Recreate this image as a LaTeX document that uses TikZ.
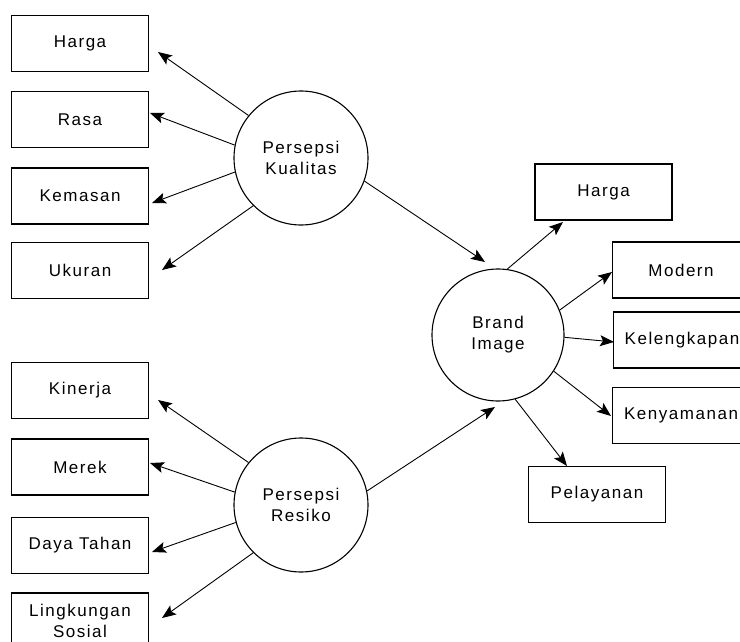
\documentclass[tikz,border=0pt]{standalone}
\usepackage{fontspec}
\setmainfont{Liberation Sans}[LetterSpace=9]
\usetikzlibrary{arrows.meta}
\begin{document}
\begin{tikzpicture}[x=1pt,y=-1pt,
  box/.style={draw,line width=1.1pt,minimum width=137pt,minimum height=56pt,inner sep=0pt,align=center,font=\fontsize{17}{21}\selectfont},
  latent/.style={draw,circle,line width=1.1pt,minimum size=134pt,inner sep=0pt,align=center,font=\fontsize{17}{21}\selectfont},
  arr/.style={line width=0.9pt,-{Stealth[length=14pt,width=11pt,inset=3pt]}}]
\useasboundingbox (0,0) rectangle (740,642);
\clip (0,0) rectangle (740,642);
% left top boxes
\node[box] (b1) at (80,43.5) {Harga};
\node[box] (b2) at (80,119.5) {Rasa};
\node[box] (b3) at (80,196) {Kemasan};
\node[box] (b4) at (80,270.5) {Ukuran};
% left bottom boxes
\node[box] (b5) at (80,390.5) {Kinerja};
\node[box] (b6) at (80,467) {Merek};
\node[box] (b7) at (80,545.5) {Daya Tahan};
\node[box] (b8) at (80,621) {Lingkungan\\Sosial};
% right boxes
\node[box] (r1) at (603.5,192) {Harga};
\node[box] (r2) at (681,270) {Modern};
\node[box] (r3) at (682,340) {Kelengkapan};
\node[box] (r4) at (681,415.5) {Kenyamanan};
\node[box] (r5) at (597,494.5) {Pelayanan};
% circles
\node[latent] (PK) at (301,158) {Persepsi\\Kualitas};
\node[latent] (PR) at (301,505) {Persepsi\\Resiko};
\node[latent,minimum size=132pt] (BI) at (498,335) {Brand\\Image};
% arrow tips
\coordinate (t1) at (158,52);
\coordinate (t2) at (150,113);
\coordinate (t3) at (152,203);
\coordinate (t4) at (162,270);
\coordinate (t5) at (158,400);
\coordinate (t6) at (150,463);
\coordinate (t7) at (152,552);
\coordinate (t8) at (162,618);
\coordinate (u1) at (563,222);
\coordinate (u2) at (612,272);
\coordinate (u3) at (614,342);
\coordinate (u4) at (611,416);
\coordinate (u5) at (567,466);
\coordinate (k1) at (485,262);
\coordinate (k2) at (495,407);
% connectors
\draw[arr] (PK.141) -- (t1);
\draw[arr] (PK.169) -- (t2);
\draw[arr] (PK.192) -- (t3);
\draw[arr] (PK.225.6) -- (t4);
\draw[arr] (PR.141.6) -- (t5);
\draw[arr] (PR.169.7) -- (t6);
\draw[arr] (PR.195) -- (t7);
\draw[arr] (PR.225) -- (t8);
\draw[arr] (BI.82) -- (u1);
\draw[arr] (BI.22) -- (u2);
\draw[arr] (BI.-2) -- (u3);
\draw[arr] (BI.-33.7) -- (u4);
\draw[arr] (BI.-75) -- (u5);
\draw[arr] (PK.-20) -- (k1);
\draw[arr] (PR.12) -- (k2);
\end{tikzpicture}
\end{document}
